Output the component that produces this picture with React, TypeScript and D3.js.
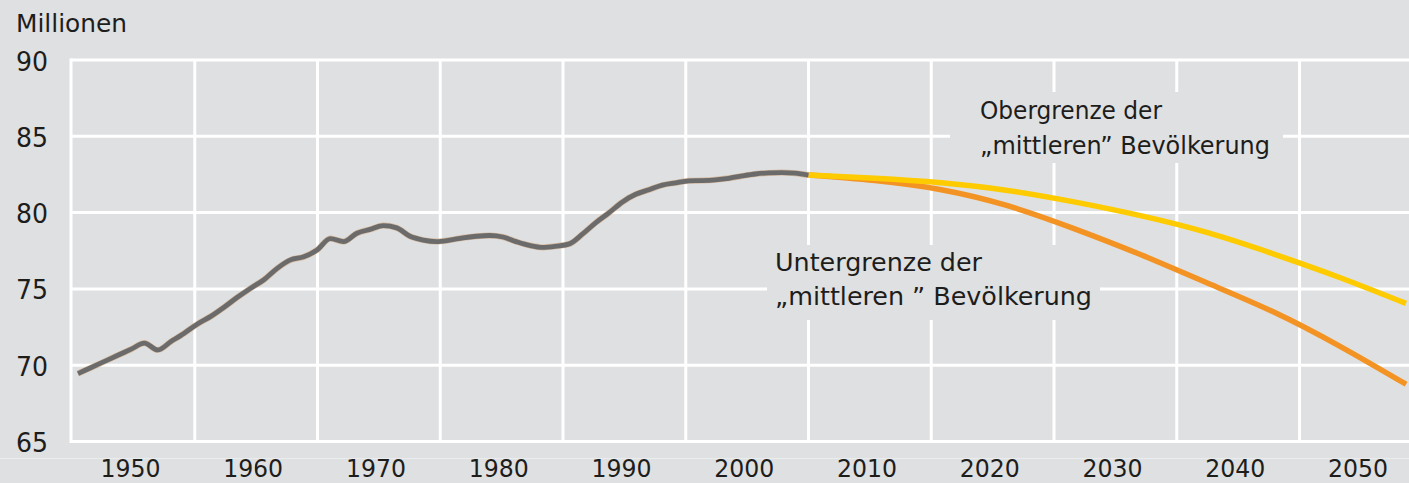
import React from "react";
import * as d3 from "d3";

const W = 1409;
const H = 483;

// Historical population (millions)
const histYears = [1950, 1951, 1952, 1953, 1954, 1955, 1956, 1957, 1958, 1959, 1960, 1961, 1962, 1963, 1964, 1965, 1966, 1967, 1968, 1969, 1970, 1971, 1972, 1973, 1974, 1975, 1976, 1977, 1978, 1979, 1980, 1981, 1982, 1983, 1984, 1985, 1986, 1987, 1988, 1989, 1990, 1991, 1992, 1993, 1994, 1995, 1996, 1997, 1998, 1999, 2000, 2001, 2002, 2003, 2004, 2005];
const histValues = [69.45, 69.85, 70.25, 70.65, 71.05, 71.45, 71.0, 71.55, 72.1, 72.7, 73.2, 73.8, 74.45, 75.05, 75.6, 76.35, 76.9, 77.1, 77.55, 78.3, 78.1, 78.65, 78.9, 79.15, 79.0, 78.45, 78.2, 78.1, 78.2, 78.35, 78.45, 78.5, 78.4, 78.1, 77.85, 77.72, 77.8, 77.95, 78.6, 79.35, 80.0, 80.7, 81.2, 81.5, 81.8, 81.95, 82.08, 82.1, 82.15, 82.25, 82.4, 82.53, 82.6, 82.62, 82.58, 82.46];

// Projection bounds
const projYears = [2005, 2010, 2015, 2020, 2025, 2030, 2035, 2040, 2045, 2050];
const upperValues = [82.46, 82.25, 81.95, 81.45, 80.7, 79.8, 78.7, 77.3, 75.75, 74.05];
const lowerValues = [82.46, 82.1, 81.5, 80.45, 78.95, 77.25, 75.4, 73.5, 71.25, 68.75];

// Axis labels
const decadeLabels = ["1950", "1960", "1970", "1980", "1990", "2000", "2010", "2020", "2030", "2040", "2050"];
const yTicks = [65, 70, 75, 80, 85, 90];

const FONT = "'Liberation Sans Narrow', 'DejaVu Sans Condensed', 'Roboto Condensed', Roboto, sans-serif";
const BG = "#dfe0e2";
const TEXT = "#1d1d1b";

export default function App() {
  const x = d3.scaleLinear().domain([1950, 2050]).range([78, 1406]);
  const y = d3.scaleLinear().domain([65, 90]).range([441.5, 60]);
  const band = d3.scaleBand<string>().domain(decadeLabels).range([72, 72 + 122.75 * decadeLabels.length]);

  const histLine = d3
    .line<[number, number]>()
    .x((d) => x(d[0]))
    .y((d) => y(d[1]))
    .curve(d3.curveMonotoneX);
  const projLine = d3
    .line<[number, number]>()
    .x((d) => x(d[0]))
    .y((d) => y(d[1]))
    .curve(d3.curveNatural);

  const hist = histLine(histYears.map((yr, i) => [yr, histValues[i]] as [number, number])) || "";
  const upper = projLine(projYears.map((yr, i) => [yr, upperValues[i]] as [number, number])) || "";
  const lower = projLine(projYears.map((yr, i) => [yr, lowerValues[i]] as [number, number])) || "";

  const left = band.range()[0] - 1;
  const bw = band.bandwidth();

  return (
    <svg
      width={W}
      height={H}
      style={{ position: "fixed", left: 0, top: 0, display: "block" }}
      fontFamily={FONT}
    >
      <rect x={0} y={0} width={W} height={H} fill={BG} />
      {/* horizontal grid */}
      {yTicks.map((t) => (
        <line key={"h" + t} x1={left} x2={W} y1={y(t)} y2={y(t)} stroke="#fff" strokeWidth={3} />
      ))}
      {/* vertical grid at band boundaries */}
      <line x1={left} x2={left} y1={y(90) - 1.5} y2={y(65) + 1.5} stroke="#fff" strokeWidth={3} />
      {decadeLabels.map((d) => (
        <line
          key={"v" + d}
          x1={(band(d) as number) + bw}
          x2={(band(d) as number) + bw}
          y1={y(90)}
          y2={y(65)}
          stroke="#fff"
          strokeWidth={3}
        />
      ))}
      {/* separator under plot */}
      <line x1={0} x2={W} y1={458.5} y2={458.5} stroke="#ebecee" strokeWidth={1.2} />

      {/* label boxes covering grid */}
      <rect x={950} y={92} width={333} height={71} fill={BG} />
      <rect x={767} y={245} width={333} height={75} fill={BG} />

      {/* data lines */}
      <path d={lower} fill="none" stroke="#f39323" strokeWidth={5.5} strokeLinejoin="round" />
      <path d={upper} fill="none" stroke="#fecb00" strokeWidth={5.5} strokeLinejoin="round" />
      <path d={hist} fill="none" stroke="#c9925a" strokeWidth={6} strokeLinejoin="round" opacity={0.5} />
      <path d={hist} fill="none" stroke="#6b6b6b" strokeWidth={4.8} strokeLinejoin="round" />

      {/* y-axis title and ticks */}
      <text x={16} y={32} fontSize={25} fill={TEXT} textLength={111} lengthAdjust="spacingAndGlyphs">
        Millionen
      </text>
      {yTicks.map((t) => (
        <text key={"yl" + t} x={16} y={y(t) + 10.5} fontSize={26} fill={TEXT} textLength={32} lengthAdjust="spacingAndGlyphs">
          {t}
        </text>
      ))}
      {decadeLabels.map((d) => (
        <text
          key={"xl" + d}
          x={(band(d) as number) + bw / 2 - 33}
          y={477}
          fontSize={24}
          fill={TEXT}
          textLength={60}
          lengthAdjust="spacingAndGlyphs"
        >
          {d}
        </text>
      ))}

      {/* annotations */}
      <text x={980} y={119} fontSize={25} fill={TEXT} textLength={182} lengthAdjust="spacingAndGlyphs">
        Obergrenze der
      </text>
      <text x={980} y={154} fontSize={25} fill={TEXT} textLength={290} lengthAdjust="spacingAndGlyphs">
        „mittleren” Bevölkerung
      </text>
      <text x={775} y={271} fontSize={25} fill={TEXT} textLength={207} lengthAdjust="spacingAndGlyphs">
        Untergrenze der
      </text>
      <text x={775} y={305} fontSize={25} fill={TEXT} textLength={317} lengthAdjust="spacingAndGlyphs">
        „mittleren ” Bevölkerung
      </text>
    </svg>
  );
}
